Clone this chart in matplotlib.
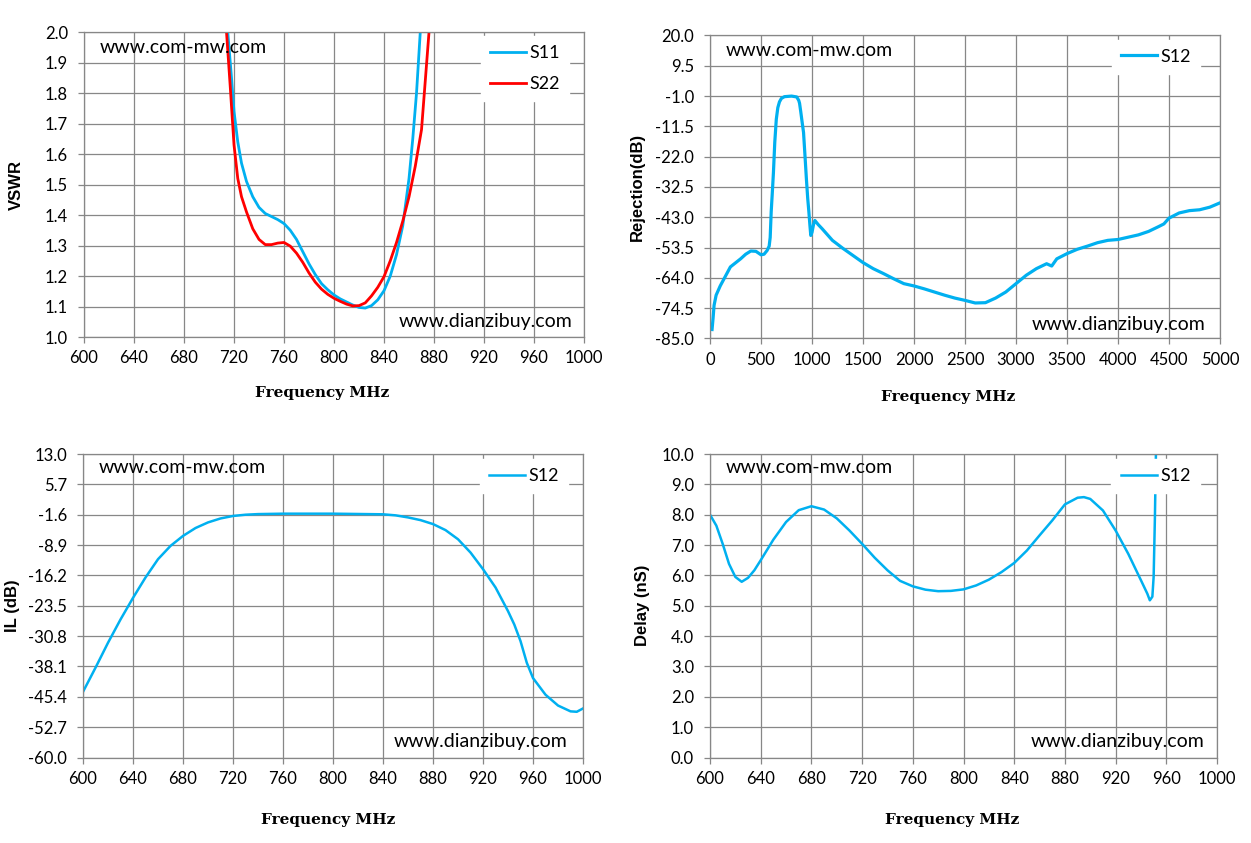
import numpy as np
import matplotlib.pyplot as plt

plt.rcParams['font.family'] = ['Lato', 'DejaVu Sans']

# VSWR (top left)
s11_freq = [715, 718, 720, 723, 726, 730, 735, 740, 745, 750, 755, 760, 765, 770, 775,
            780, 785, 790, 795, 800, 805, 810, 815, 820, 825, 830, 835, 840, 845, 850,
            855, 860, 863, 866, 869]
s11_vswr = [2.00, 1.85, 1.74, 1.64, 1.57, 1.51, 1.46, 1.425, 1.405, 1.395, 1.385, 1.372,
            1.35, 1.32, 1.28, 1.24, 1.205, 1.175, 1.155, 1.138, 1.125, 1.115, 1.105,
            1.097, 1.095, 1.103, 1.122, 1.152, 1.20, 1.27, 1.365, 1.52, 1.65, 1.80, 2.00]
s22_freq = [714, 717, 720, 723, 726, 730, 735, 740, 745, 750, 755, 760, 765, 770, 775,
            780, 785, 790, 795, 800, 805, 810, 815, 820, 825, 830, 835, 840, 845, 850,
            855, 860, 865, 870, 873, 876]
s22_vswr = [2.00, 1.82, 1.63, 1.52, 1.46, 1.41, 1.355, 1.32, 1.303, 1.303, 1.308, 1.31,
            1.298, 1.275, 1.245, 1.21, 1.18, 1.157, 1.14, 1.127, 1.117, 1.108, 1.102,
            1.103, 1.112, 1.135, 1.163, 1.198, 1.25, 1.31, 1.38, 1.46, 1.56, 1.68, 1.84, 2.00]

# Rejection (top right)
rej_freq = [20, 30, 40, 60, 100, 150, 200, 250, 300, 350, 400, 450, 500, 530, 560, 580,
            590, 600, 610, 622, 635, 650, 665, 681, 700, 730, 800, 850, 870, 878, 890,
            905, 917, 930, 945, 958, 969, 980, 988, 1000, 1015, 1028, 1060, 1100, 1150,
            1200, 1300, 1400, 1500, 1600, 1700, 1800, 1900, 2000, 2100, 2200, 2300, 2400,
            2500, 2600, 2700, 2800, 2900, 3000, 3100, 3200, 3300, 3350, 3400, 3500, 3600,
            3700, 3800, 3900, 4000, 4100, 4200, 4300, 4400, 4450, 4500, 4600, 4700, 4800,
            4900, 5000]
rej_db = [-81.9, -78.0, -73.5, -70.0, -66.8, -63.5, -60.2, -58.8, -57.4, -55.8, -54.7,
          -54.8, -56.0, -55.8, -54.5, -53.0, -50.0, -41.0, -35.0, -27.4, -17.0, -9.0,
          -5.0, -3.0, -1.8, -1.2, -1.0, -1.3, -2.5, -3.5, -6.5, -10.5, -13.6, -21.0,
          -29.7, -36.5, -41.0, -46.0, -49.3, -48.2, -45.5, -44.1, -45.5, -47.0, -49.0,
          -51.0, -53.7, -56.2, -58.7, -60.8, -62.5, -64.3, -66.0, -66.8, -67.8, -68.9,
          -70.0, -71.0, -71.8, -72.7, -72.6, -71.0, -68.9, -66.0, -63.1, -60.8, -59.1,
          -59.9, -57.4, -55.6, -54.1, -53.0, -51.8, -51.0, -50.7, -49.9, -49.1, -47.9,
          -46.2, -45.3, -43.3, -41.5, -40.7, -40.4, -39.5, -38.0]

# Insertion loss (bottom left)
il_freq = [600, 610, 620, 630, 640, 650, 660, 670, 680, 690, 700, 710, 720, 730, 740,
           760, 800, 840, 850, 860, 870, 880, 890, 900, 910, 920, 930, 940, 945, 950,
           955, 960, 970, 980, 990, 995, 1000]
il_db = [-44.2, -38.4, -32.4, -26.8, -21.6, -16.7, -12.3, -9.1, -6.7, -4.8, -3.45, -2.5,
         -1.9, -1.6, -1.45, -1.35, -1.35, -1.5, -1.75, -2.25, -2.9, -3.85, -5.3, -7.5,
         -10.7, -14.7, -19.1, -24.8, -28.0, -32.0, -37.2, -40.9, -44.9, -47.5, -48.9,
         -49.0, -48.2]

# Group delay (bottom right)
dl_freq = [600, 605, 610, 615, 620, 625, 630, 635, 640, 650, 660, 670, 680, 690, 700,
           710, 720, 730, 740, 750, 760, 770, 780, 790, 800, 810, 820, 830, 840, 850,
           860, 870, 880, 890, 895, 900, 910, 920, 930, 940, 945, 947, 949, 950, 951, 952]
dl_ns = [8.0, 7.64, 7.04, 6.38, 5.95, 5.79, 5.92, 6.17, 6.5, 7.18, 7.76, 8.15, 8.28, 8.17,
         7.88, 7.48, 7.04, 6.58, 6.17, 5.82, 5.64, 5.53, 5.48, 5.49, 5.54, 5.67, 5.86, 6.11,
         6.41, 6.82, 7.32, 7.81, 8.34, 8.56, 8.58, 8.52, 8.14, 7.48, 6.71, 5.84, 5.4, 5.18,
         5.3, 5.95, 7.9, 10.5]

blue = '#00B0F0'
red = '#FF0000'
grid_c = '#878787'

fig = plt.figure(figsize=(12.51, 8.43), dpi=100)


def style(ax, xticks, yticks, fmt, xlab_x, xlab_y):
    ax.set_xlim(xticks[0], xticks[-1])
    ax.set_ylim(yticks[0], yticks[-1])
    ax.set_xticks(xticks)
    ax.set_yticks(yticks)
    ax.set_yticklabels([fmt % v for v in yticks])
    ax.grid(True, color=grid_c, lw=0.9)
    ax.set_axisbelow(True)
    for s in ax.spines.values():
        s.set_color(grid_c)
        s.set_linewidth(0.9)
    ax.tick_params(axis='x', direction='out', length=4.5, width=0.9, color=grid_c,
                   labelsize=12, pad=5)
    ax.tick_params(axis='y', direction='out', length=4.5, width=0.9, color=grid_c,
                   labelsize=12, pad=7)
    ax.set_xlabel('Frequency MHz', family='DejaVu Serif', weight='bold', fontsize=11)
    ax.xaxis.set_label_coords(xlab_x, xlab_y)


def marks(ax, left_y, right_x, right_y):
    ax.text(0.031, left_y, 'www.com-mw.com', transform=ax.transAxes, fontsize=14,
            va='center', ha='left')
    ax.text(right_x, right_y, 'www.dianzibuy.com', transform=ax.transAxes, fontsize=14,
            va='center', ha='right')


def legend(ax, x, y, spacing=1.0):
    ax.legend(loc='upper right', bbox_to_anchor=(x, y), borderaxespad=0, fontsize=13,
              frameon=True, facecolor='white', edgecolor='white', fancybox=False,
              framealpha=1, handlelength=2.0, handletextpad=0.2, borderpad=0.5,
              labelspacing=spacing)


def ylab(ax, text, x):
    ax.set_ylabel(text, family='Liberation Sans', weight='bold', fontsize=12)
    ax.yaxis.set_label_coords(x, 0.5)


# top left
ax1 = fig.add_axes([0.06715, 0.6002, 0.3997, 0.3618])
ax1.plot(s11_freq, s11_vswr, color=blue, lw=2.0, label='S11')
ax1.plot(s22_freq, s22_vswr, color=red, lw=2.0, label='S22')
style(ax1, np.arange(600, 1001, 40), np.round(np.arange(1.0, 2.01, 0.1), 1), '%.1f',
      0.476, -0.161)
ylab(ax1, 'VSWR', -0.12)
marks(ax1, 0.949, 0.976, 0.05)
legend(ax1, 0.97, 0.987, spacing=0.85)

# top right
ax2 = fig.add_axes([0.56755, 0.5985, 0.40767, 0.3594])
ax2.plot(rej_freq, rej_db, color=blue, lw=2.3, label='S12')
style(ax2, np.arange(0, 5001, 500), np.round(np.arange(-85, 20.1, 10.5), 1), '%.1f',
      0.467, -0.17)
ylab(ax2, 'Rejection(dB)', -0.127)
marks(ax2, 0.95, 0.972, 0.045)
legend(ax2, 0.961, 0.986)

# bottom left
ax3 = fig.add_axes([0.06635, 0.10142, 0.3997, 0.36])
ax3.plot(il_freq, il_db, color=blue, lw=1.8, label='S12')
style(ax3, np.arange(600, 1001, 40), np.round(np.arange(-60, 13.01, 7.3), 1), '%.1f',
      0.49, -0.183)
ylab(ax3, 'IL (dB)', -0.126)
marks(ax3, 0.957, 0.968, 0.054)
legend(ax3, 0.97, 0.983)

# bottom right
ax4 = fig.add_axes([0.56755, 0.10142, 0.40528, 0.36])
ax4.plot(dl_freq, dl_ns, color=blue, lw=1.8, label='S12')
style(ax4, np.arange(600, 1001, 40), np.round(np.arange(0, 10.01, 1.0), 1), '%.1f',
      0.477, -0.183)
ylab(ax4, 'Delay (nS)', -0.118)
marks(ax4, 0.957, 0.976, 0.054)
legend(ax4, 0.966, 0.983)

fig.savefig('out.png', dpi=100)
